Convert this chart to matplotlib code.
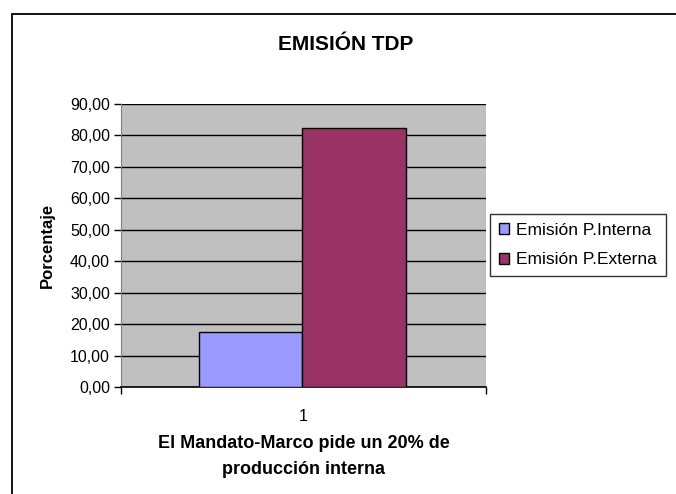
import matplotlib
matplotlib.use("Agg")
from matplotlib import pyplot as plt
from matplotlib.patches import Rectangle
from matplotlib.ticker import MultipleLocator, FuncFormatter

plt.rcParams['font.family'] = ['Liberation Sans', 'DejaVu Sans']

series = ["Emisión P.Interna", "Emisión P.Externa"]
values = [17.5, 82.5]
colors = ["#9999FF", "#993366"]
category = 1

fig = plt.figure(figsize=(6.76, 4.94), dpi=100)
ax = fig.add_axes([121/676, 1-387/494, 365/676, 283/494])
ax.set_facecolor("#C0C0C0")

w = 0.284
offsets = [-w/2, w/2]
for name, v, c, off in zip(series, values, colors, offsets):
    ax.bar(category + off - 0.003, v, width=w, color=c, edgecolor="black", linewidth=1.0, label=name, zorder=3)

ax.set_xlim(0.5, 1.5)
ax.set_ylim(0, 90)
ax.yaxis.set_major_locator(MultipleLocator(10))
ax.yaxis.set_major_formatter(FuncFormatter(lambda v, p: f"{v:.2f}".replace(".", ",")))
ax.grid(axis="y", color="black", linewidth=1.0, zorder=1)
ax.set_xticks([1])
ax.set_xticklabels(["1"])
ax.set_xticks([0.5, 1.5], minor=True)
ax.tick_params(axis="x", which="major", length=0, pad=16, labelsize=11.5)
ax.tick_params(axis="x", which="minor", length=5, direction="out", width=1)
ax.tick_params(axis="y", length=5, direction="out", width=1, labelsize=11.5, pad=3)
for s in ["top", "right"]:
    ax.spines[s].set_visible(False)
ax.spines["left"].set_color("#808080")
ax.spines["bottom"].set_linewidth(1.2)

ax.set_ylabel("Porcentaje", fontsize=12, fontweight="bold", labelpad=11)
ax.set_xlabel("El Mandato-Marco pide un 20% de\nproducción interna", fontsize=13,
              fontweight="bold", labelpad=8, linespacing=1.7)
fig.text(346/676, 1-45/494, "EMISIÓN TDP", ha="center", va="center", fontsize=15, fontweight="bold")

leg = fig.legend(loc="upper left", bbox_to_anchor=(490/676, 1-214/494), fontsize=12.5,
                 frameon=True, fancybox=False, handlelength=0.6, handleheight=0.6,
                 handletextpad=0.4, borderpad=0.5, labelspacing=0.85, borderaxespad=0)
leg.get_frame().set_edgecolor("black")
leg.get_frame().set_linewidth(1.0)

fig.patches.append(Rectangle((12/676, -0.1), 1.2, 0.1 + 1-14/494, transform=fig.transFigure,
                             fill=False, edgecolor="black", linewidth=1.3, clip_on=False))

fig.savefig("out.png", dpi=100)
